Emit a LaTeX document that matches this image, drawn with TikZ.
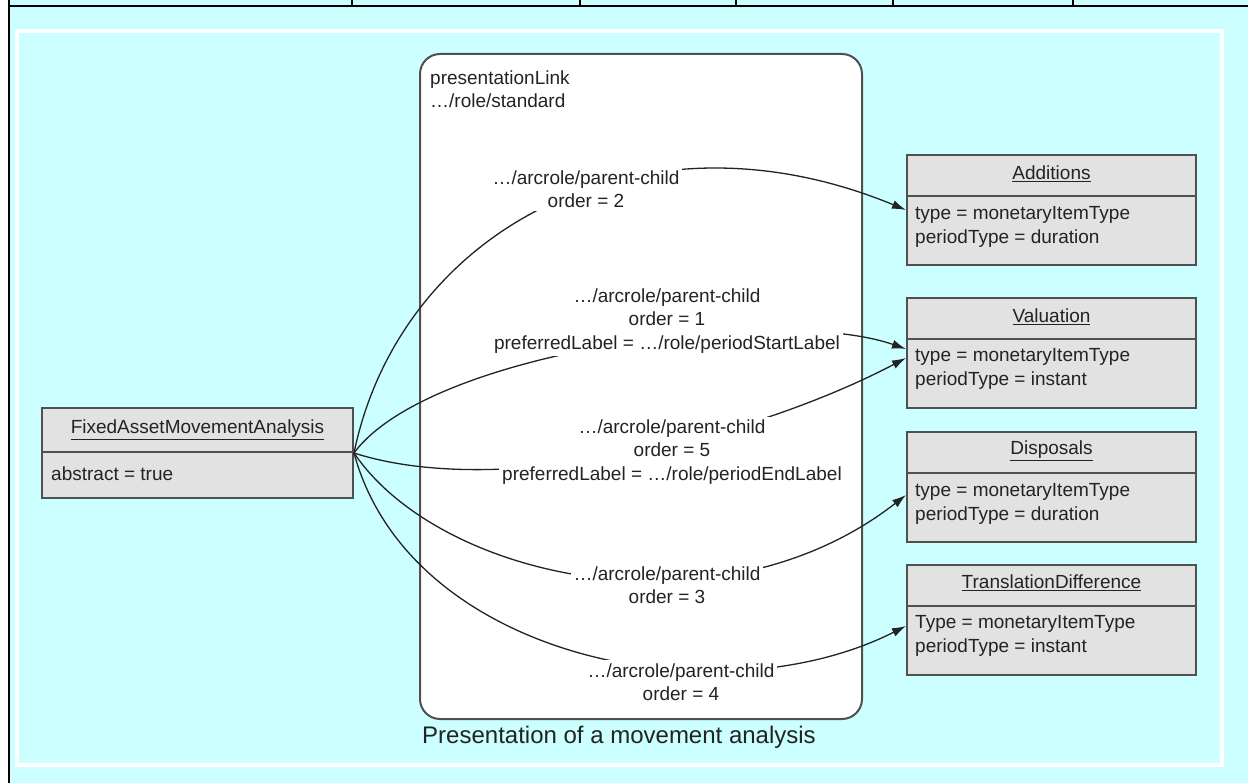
\documentclass[tikz,border=0pt]{standalone}
\usepackage{fontspec}
\setmainfont{Liberation Sans}
\usetikzlibrary{arrows.meta}

\definecolor{bgcyan}{RGB}{204,255,255}
\definecolor{boxgray}{RGB}{226,226,226}
\definecolor{boxline}{RGB}{80,80,80}
\definecolor{inkgray}{RGB}{35,35,35}

\newcommand\diagfont{\fontsize{19}{23.5}\selectfont}
\newcommand\capfont{\fontsize{24}{28}\selectfont}

\begin{document}
\begin{tikzpicture}[x=1pt,y=-1pt,
  classbox/.style={draw=boxline, fill=boxgray, line width=2pt, inner sep=0pt,
    minimum width=289pt, minimum height=110pt},
  divider/.style={draw=boxline, line width=2pt},
  title/.style={font=\diagfont, text=inkgray, inner sep=0pt},
  body/.style={font=\diagfont, text=inkgray, align=left, anchor=west, inner sep=0pt},
  linkbox/.style={draw=boxline, fill=white, line width=2pt, rounded corners=20pt,
    minimum width=442pt, minimum height=665pt, inner sep=0pt},
  arclabel/.style={font=\diagfont, text=inkgray, fill=white, align=center, inner sep=3pt},
  arc/.style={draw=inkgray, line width=1.3pt, -{Latex[length=14pt,width=9pt]}},
  rule/.style={draw=black, line width=1.6pt}
]
\useasboundingbox (0,0) rectangle (1248,783);

% page background, table rules and the light frame
\fill[white] (0,0) rectangle (1248,783);
\fill[bgcyan] (9,0) rectangle (1248,783);
\draw[rule] (9,6) -- (1248,6);
\draw[rule] (9,0) -- (9,783);
\foreach \tx in {352,580,736,893,1073} \draw[rule] (\tx,0) -- (\tx,6);
\draw[white, line width=4pt] (17,31) rectangle (1222,765);

% presentation link container
\node[linkbox] (link) at (641,386.5) {};
\node[body, align=left] (linkname) at (430,89) {presentationLink\\…/role/standard};
\node[font=\capfont, text=inkgray, inner sep=0pt] (caption) at (619,737) {Presentation of a movement analysis};

% parent concept
\node[classbox, minimum width=311pt, minimum height=90pt] (fam) at (197.5,453) {};
\draw[divider] ([yshift=-45pt]fam.north west) -- ([yshift=-45pt]fam.north east);
\node[title] (famtitle) at ([yshift=-22.5pt]fam.north) {\underline{FixedAssetMovementAnalysis}};
\node[body] (fambody) at ([xshift=10pt,yshift=-67pt]fam.north west) {abstract = true};

% child concepts
\node[classbox] (add) at (1051.5,210) {};
\draw[divider] ([yshift=-42pt]add.north west) -- ([yshift=-42pt]add.north east);
\node[title] (addtitle) at ([yshift=-20pt]add.north) {\underline{Additions}};
\node[body] (addbody) at ([xshift=9pt,yshift=-73pt]add.north west) {type = monetaryItemType\\periodType = duration};

\node[classbox] (val) at (1051.5,353) {};
\draw[divider] ([yshift=-42pt]val.north west) -- ([yshift=-42pt]val.north east);
\node[title] (valtitle) at ([yshift=-20pt]val.north) {\underline{Valuation}};
\node[body] (valbody) at ([xshift=9pt,yshift=-72pt]val.north west) {type = monetaryItemType\\periodType = instant};

\node[classbox] (dis) at (1051.5,487) {};
\draw[divider] ([yshift=-42pt]dis.north west) -- ([yshift=-42pt]dis.north east);
\node[title] (distitle) at ([yshift=-20pt]dis.north) {\underline{Disposals}};
\node[body] (disbody) at ([xshift=9pt,yshift=-73pt]dis.north west) {type = monetaryItemType\\periodType = duration};

\node[classbox] (tra) at (1051.5,620) {};
\draw[divider] ([yshift=-42pt]tra.north west) -- ([yshift=-42pt]tra.north east);
\node[title] (tratitle) at ([yshift=-19pt]tra.north) {\underline{TranslationDifference}};
\node[body] (trabody) at ([xshift=9pt,yshift=-72pt]tra.north west) {Type = monetaryItemType\\periodType = instant};

% parent-child arcs
\draw[arc] (fam.east) .. controls (400,230) and (640,100) .. (add.west);
\draw[arc] (fam.east) .. controls (430,350) and (780,305) .. ([yshift=4pt]val.west);
\draw[arc] (fam.east) .. controls (500,500) and (750,440) .. ([yshift=-5pt]val.west);
\draw[arc] (fam.east) .. controls (440,580) and (720,640) .. ([yshift=-8pt]dis.west);
\draw[arc] (fam.east) .. controls (410,660) and (720,720) .. ([yshift=-6pt]tra.west);

% arc labels
\node[arclabel] (lab2) at (586,189) {…/arcrole/parent-child\\order = 2};
\node[arclabel] (lab1) at (667,321) {…/arcrole/parent-child\\order = 1\\preferredLabel = …/role/periodStartLabel};
\node[arclabel] (lab5) at (672,452) {…/arcrole/parent-child\\order = 5\\preferredLabel = …/role/periodEndLabel};
\node[arclabel] (lab3) at (667,585) {…/arcrole/parent-child\\order = 3};
\node[arclabel] (lab4) at (681,682) {…/arcrole/parent-child\\order = 4};
\end{tikzpicture}
\end{document}
